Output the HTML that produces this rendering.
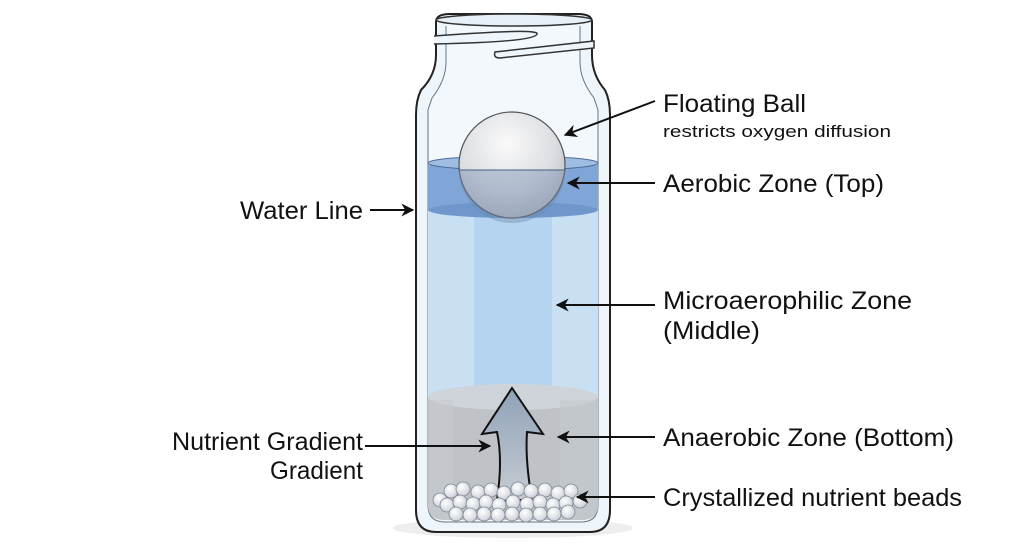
<!DOCTYPE html>
<html><head><meta charset="utf-8"><style>
html,body{margin:0;padding:0;background:#fff;}
svg{display:block;}
text{font-family:"Liberation Sans",sans-serif;fill:#111;}
</style></head><body>
<svg width="1024" height="559" viewBox="0 0 1024 559" xmlns="http://www.w3.org/2000/svg">
<defs>
<marker id="ah" viewBox="0 0 10 10" refX="9" refY="5" markerWidth="14" markerHeight="13" orient="auto-start-reverse" markerUnits="userSpaceOnUse">
<path d="M0,0 L10,5 L0,10 L3,5 z" fill="#111"/></marker>
<radialGradient id="ball" cx="0.45" cy="0.3" r="0.75">
<stop offset="0" stop-color="#fafafa"/><stop offset="0.6" stop-color="#dcdee2"/><stop offset="1" stop-color="#b4b8bf"/></radialGradient>
<linearGradient id="arr" x1="0" y1="0" x2="0" y2="1">
<stop offset="0" stop-color="#8fa2b8"/><stop offset="1" stop-color="#c7ccd2"/></linearGradient>
<radialGradient id="bead" cx="0.4" cy="0.35" r="0.7">
<stop offset="0" stop-color="#fff"/><stop offset="1" stop-color="#c9ced6"/></radialGradient>
<clipPath id="inside"><path d="M428,100 L428,505 Q428,520 445,520 L581,520 Q598,520 598,505 L598,100 Z"/></clipPath>
</defs>
<ellipse cx="513" cy="528" rx="120" ry="10" fill="#eee"/>
<path d="M436,22 Q436,14 450,14 L578,14 Q592,14 592,22 L592,55 Q592,75 605,90 Q610,100 610,115 L610,510 Q610,532 590,532 L436,532 Q416,532 416,510 L416,115 Q416,100 421,90 Q436,75 436,55 Z" fill="#eef5fb" stroke="#222" stroke-width="2"/>
<path d="M446,26 L446,62 Q446,80 432,98 L428,110 L428,505 Q428,522 445,522 L581,522 Q598,522 598,505 L598,110 L594,98 Q580,80 580,62 L580,26" fill="#f3f8fc" stroke="#6a7480" stroke-width="1"/>
<ellipse cx="514" cy="20" rx="78" ry="6" fill="#e8f0f7" stroke="#333" stroke-width="1.5"/>
<path d="M434,36 Q540,28 537,34 Q536,42 434,44" fill="#eef5fb" stroke="#333" stroke-width="1.5"/>
<path d="M495,52 Q493,58 500,58 L594,48 L594,41 Z" fill="#eef5fb" stroke="#333" stroke-width="1.5"/>
<g clip-path="url(#inside)">
<rect x="420" y="165" width="190" height="360" fill="#c9e0f3"/>
<rect x="474" y="165" width="78" height="230" fill="#b5d4ef"/>
<rect x="420" y="165" width="190" height="45" fill="#7fa6d6"/>
<ellipse cx="513" cy="210" rx="85" ry="8" fill="#6f97cc"/>
<rect x="420" y="397" width="190" height="130" fill="#bfc3c8"/>
<ellipse cx="513" cy="397" rx="85" ry="13" fill="#cfd4da"/>
<rect x="428" y="400" width="25" height="120" fill="#c8ccd0" opacity="0.6"/>
<rect x="560" y="400" width="38" height="120" fill="#c5c9cd" opacity="0.6"/>
</g>
<ellipse cx="513" cy="163" rx="85" ry="7" fill="#9fbde2" stroke="#4a6c96" stroke-width="1"/>
<circle cx="512" cy="165" r="53" fill="url(#ball)" stroke="#555" stroke-width="1.2"/>
<path d="M459,170 A53,53 0 0 0 565,170 Z" fill="#6d88ad" opacity="0.4"/>
<line x1="459" y1="170" x2="565" y2="170" stroke="#4a5f80" stroke-width="1"/>
<path d="M512,388 L543,434 L527,432 Q525,460 532,500 L497,500 Q503,460 497,432 L482,434 Z" fill="url(#arr)" stroke="#111" stroke-width="2"/>
<g fill="url(#bead)" stroke="#7f8894" stroke-width="0.8">
<circle cx="440" cy="500" r="7"/><circle cx="451" cy="491" r="7"/><circle cx="463" cy="489" r="7"/><circle cx="478" cy="492" r="7"/><circle cx="491" cy="490" r="7"/><circle cx="504" cy="493" r="7"/><circle cx="518" cy="489" r="7"/><circle cx="531" cy="491" r="7"/><circle cx="545" cy="490" r="7"/><circle cx="558" cy="493" r="7"/><circle cx="571" cy="491" r="7"/>
<circle cx="447" cy="505" r="7"/><circle cx="460" cy="502" r="7"/><circle cx="473" cy="504" r="7"/><circle cx="486" cy="502" r="7"/><circle cx="499" cy="505" r="7"/><circle cx="513" cy="502" r="7"/><circle cx="527" cy="504" r="7"/><circle cx="540" cy="502" r="7"/><circle cx="553" cy="505" r="7"/><circle cx="566" cy="503" r="7"/><circle cx="580" cy="501" r="7"/>
<circle cx="456" cy="514" r="7"/><circle cx="470" cy="515" r="7"/><circle cx="484" cy="514" r="7"/><circle cx="498" cy="515" r="7"/><circle cx="512" cy="514" r="7"/><circle cx="526" cy="515" r="7"/><circle cx="540" cy="514" r="7"/><circle cx="554" cy="514" r="7"/><circle cx="568" cy="512" r="7"/>
</g>
<g stroke="#111" stroke-width="2" fill="none" marker-end="url(#ah)">
<line x1="655" y1="101" x2="565" y2="135"/>
<line x1="655" y1="183" x2="568" y2="183"/>
<line x1="370" y1="210" x2="413" y2="210"/>
<line x1="655" y1="305" x2="557" y2="305"/>
<line x1="655" y1="437" x2="558" y2="437"/>
<line x1="365" y1="446" x2="490" y2="446"/>
<line x1="655" y1="497" x2="577" y2="497"/>
</g>
<g font-size="25" lengthAdjust="spacingAndGlyphs">
<text x="663" y="112" textLength="143" lengthAdjust="spacingAndGlyphs">Floating Ball</text>
<text x="663" y="137" font-size="17" textLength="228" lengthAdjust="spacingAndGlyphs">restricts oxygen diffusion</text>
<text x="663" y="192" textLength="221" lengthAdjust="spacingAndGlyphs">Aerobic Zone (Top)</text>
<text x="240" y="219" textLength="123" lengthAdjust="spacingAndGlyphs">Water Line</text>
<text x="663" y="309" textLength="249" lengthAdjust="spacingAndGlyphs">Microaerophilic Zone</text>
<text x="663" y="339" textLength="97" lengthAdjust="spacingAndGlyphs">(Middle)</text>
<text x="663" y="446" textLength="291" lengthAdjust="spacingAndGlyphs">Anaerobic Zone (Bottom)</text>
<text x="172" y="450" textLength="191" lengthAdjust="spacingAndGlyphs">Nutrient Gradient</text>
<text x="270" y="479" textLength="93" lengthAdjust="spacingAndGlyphs">Gradient</text>
<text x="663" y="506" textLength="299" lengthAdjust="spacingAndGlyphs">Crystallized nutrient beads</text>
</g>
</svg>
</body></html>
